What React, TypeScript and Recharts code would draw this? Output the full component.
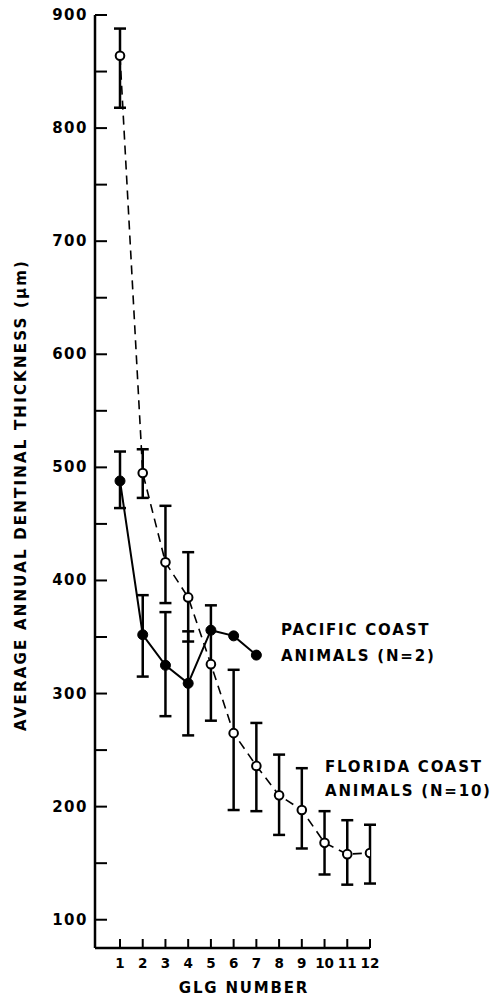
import { ComposedChart, Line, XAxis, YAxis, ErrorBar } from "recharts";

// GLG number (x) and mean dentinal thickness in µm, with error bar ends
const glgNumbers = [1, 2, 3, 4, 5, 6, 7, 8, 9, 10, 11, 12];
const yTicks = [100, 150, 200, 250, 300, 350, 400, 450, 500, 550, 600, 650, 700, 750, 800, 850, 900];

const floridaMean = [864, 495, 416, 385, 326, 265, 236, 210, 197, 168, 158, 159];
const floridaLow = [818, 473, 380, 346, 276, 197, 196, 175, 163, 140, 131, 132];
const floridaHigh = [888, 516, 466, 425, 378, 321, 274, 246, 234, 196, 188, 184];

const pacificMean = [488, 352, 325, 309, 356, 351, 334];
const pacificLow: (number | null)[] = [464, 315, 280, 263, null, null, null];
const pacificHigh: (number | null)[] = [514, 387, 372, 355, null, null, null];

const floridaData = glgNumbers.map((g, i) => ({
  glg: g,
  value: floridaMean[i],
  err: [floridaMean[i] - floridaLow[i], floridaHigh[i] - floridaMean[i]],
}));

const pacificData = pacificMean.map((v, i) => {
  const lo = pacificLow[i];
  const hi = pacificHigh[i];
  return {
    glg: glgNumbers[i],
    value: v,
    err: lo == null || hi == null ? undefined : [v - lo, hi - v],
  };
});

const FONT = "'DejaVu Sans', sans-serif";

// only the hundreds get a number, the 50s are bare ticks
function YTick({ x, y, payload }: any) {
  if (payload.value % 100 !== 0) return <g />;
  return (
    <text
      x={x}
      y={y}
      textAnchor="end"
      dominantBaseline="central"
      fontFamily={FONT}
      fontWeight="bold"
      fontSize={15}
      letterSpacing={1.5}
      fill="#000"
    >
      {payload.value}
    </text>
  );
}

function XTick({ x, y, payload }: any) {
  return (
    <text
      x={x}
      y={y}
      textAnchor="middle"
      dominantBaseline="central"
      fontFamily={FONT}
      fontWeight="bold"
      fontSize={13.5}
      fill="#000"
    >
      {payload.value}
    </text>
  );
}

const labelStyle: React.CSSProperties = {
  position: "absolute",
  fontFamily: FONT,
  fontWeight: "bold",
  fontSize: 15,
  letterSpacing: 1.8,
  color: "#000",
  whiteSpace: "nowrap",
};

export default function App() {
  return (
    <div style={{ position: "absolute", left: 0, top: 0, width: 498, height: 999, background: "#fff" }}>
      <ComposedChart
        width={498}
        height={999}
        margin={{ top: 15, right: 128, bottom: 0, left: 0 }}
      >
        <XAxis
          type="number"
          dataKey="glg"
          domain={[-0.1, 12]}
          ticks={glgNumbers}
          interval={0}
          height={51}
          tickSize={-9}
          tickMargin={24}
          tickLine={{ stroke: "#000", strokeWidth: 2 }}
          tick={<XTick />}
          axisLine={{ stroke: "#000", strokeWidth: 2.5 }}
          allowDataOverflow
        />
        <YAxis
          type="number"
          domain={[75, 900]}
          ticks={yTicks}
          interval={0}
          width={95}
          tickSize={-12}
          tickMargin={19}
          tickLine={{ stroke: "#000", strokeWidth: 2 }}
          tick={<YTick />}
          axisLine={{ stroke: "#000", strokeWidth: 2.5 }}
          allowDataOverflow
        />
        <Line
          data={pacificData}
          dataKey="value"
          stroke="#000"
          strokeWidth={2}
          dot={{ r: 5, fill: "#000", stroke: "#000", strokeWidth: 1 }}
          isAnimationActive={false}
        >
          <ErrorBar dataKey="err" width={6} stroke="#000" strokeWidth={2.5} direction="y" isAnimationActive={false} />
        </Line>
        <Line
          data={floridaData}
          dataKey="value"
          stroke="#000"
          strokeWidth={1.6}
          strokeDasharray="9 6"
          dot={{ r: 4.3, fill: "#fff", stroke: "#000", strokeWidth: 2, strokeDasharray: "" }}
          isAnimationActive={false}
        >
          <ErrorBar dataKey="err" width={6} stroke="#000" strokeWidth={2.5} direction="y" isAnimationActive={false} />
        </Line>
      </ComposedChart>

      <div
        style={{
          ...labelStyle,
          left: 21 - 250,
          top: 495 - 10,
          width: 500,
          height: 20,
          lineHeight: "20px",
          textAlign: "center",
          letterSpacing: 2.2,
          transform: "rotate(-90deg)",
          transformOrigin: "50% 50%",
        }}
      >
        AVERAGE ANNUAL DENTINAL THICKNESS (μm)
      </div>

      <div style={{ ...labelStyle, left: 178, top: 978, width: 132, lineHeight: "20px", textAlign: "center" }}>
        GLG NUMBER
      </div>

      <div style={{ ...labelStyle, left: 281, top: 617, lineHeight: "26px" }}>
        PACIFIC COAST
        <br />
        ANIMALS (N=2)
      </div>

      <div style={{ ...labelStyle, left: 325, top: 755, lineHeight: "24px" }}>
        FLORIDA COAST
        <br />
        ANIMALS (N=10)
      </div>
    </div>
  );
}
